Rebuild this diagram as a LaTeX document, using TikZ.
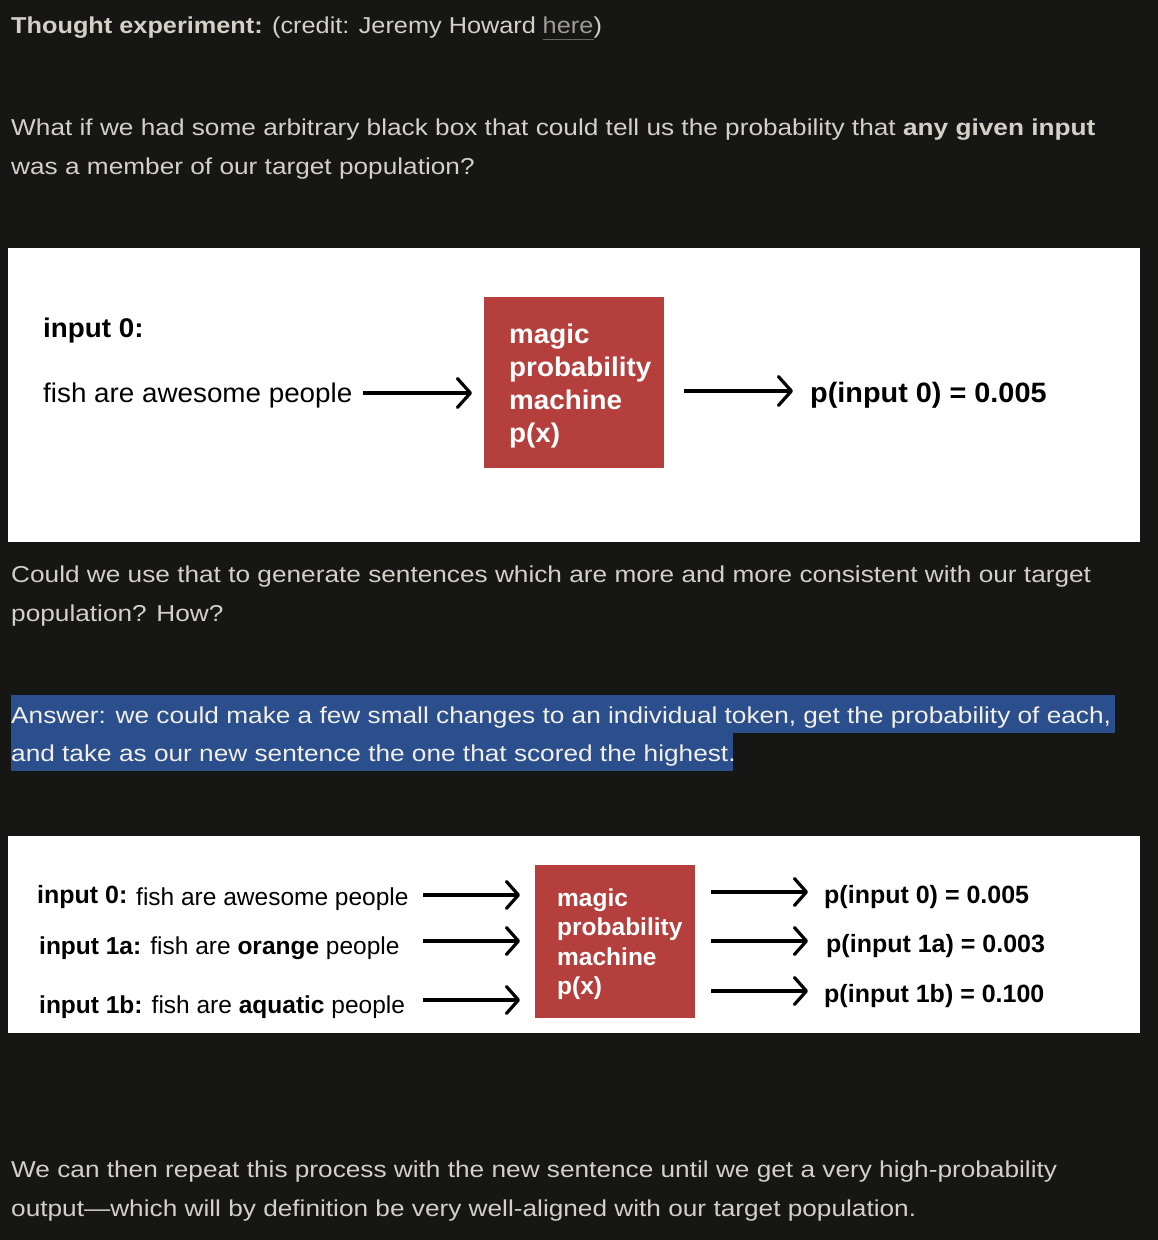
\documentclass[tikz,border=0pt]{standalone}
\usepackage{fontspec}
\setmainfont{Liberation Sans}
\newfontfamily\bodyfont{Liberation Sans}[FakeStretch=1.14]
\newfontfamily\titlefont{Liberation Sans}[FakeStretch=1.10]
\newfontfamily\diagfont{Liberation Sans}[FakeStretch=1.03]
\newfontfamily\smallfont{Liberation Sans}
\usetikzlibrary{arrows.meta}
\definecolor{bg}{HTML}{161615}
\definecolor{bodytext}{HTML}{D4CFC7}
\definecolor{linkgrey}{HTML}{9F9B95}
\definecolor{hl}{HTML}{2A4F8C}
\definecolor{hltext}{HTML}{F2EFE9}
\definecolor{boxred}{HTML}{B53F3C}
\begin{document}
\begin{tikzpicture}[x=1pt,y=-1pt,
  body/.style={anchor=base west, inner sep=0pt, text=bodytext, font=\bodyfont\fontsize{23}{28}\selectfont},
  ttl/.style={body, font=\titlefont\fontsize{23}{28}\selectfont},
  hltxt/.style={body, text=hltext},
  dtxt/.style={anchor=base west, inner sep=0pt, text=black, font=\diagfont\fontsize{27}{32}\selectfont},
  dtxtb/.style={dtxt, font=\diagfont\fontsize{27}{32}\selectfont\bfseries},
  stxt/.style={anchor=base west, inner sep=0pt, text=black, font=\smallfont\fontsize{24.5}{30}\selectfont},
  stxtb/.style={stxt, font=\smallfont\fontsize{25}{30}\selectfont\bfseries},
  panel/.style={fill=white, draw=none},
  redbox/.style={fill=boxred, draw=none, inner sep=0pt},
  boxtxt/.style={anchor=base west, inner sep=0pt, text=white},
  arr/.style={line width=3.2pt, -{Straight Barb[length=13pt,width=29pt,round]}},
  sarr/.style={line width=3.2pt, -{Straight Barb[length=12pt,width=27pt,round]}}
]
\fill[bg] (0,0) rectangle (1158,1240);
\useasboundingbox (0,0) rectangle (1158,1240);

% title
\node[ttl] (title) at (11,33)
  {\textbf{Thought experiment:} (credit: Jeremy Howard};
\node[ttl, text=linkgrey] (here) at ([xshift=6.3pt]title.base east) {here};
\node[ttl] (close) at (here.base east) {)};
\draw[linkgrey!60!bg, line width=1pt] ([yshift=-6pt]here.base west) -- ([yshift=-6pt]here.base east);

% paragraph 1
\node[body] (p1a) at (11,135) {What if we had some arbitrary black box that could tell us the probability that \textbf{any given input}};
\node[body] (p1b) at (11,174) {was a member of our target population?};

% panel 1
\fill[panel] (8,248) rectangle (1140,542);
\node[dtxtb] (in0) at (43,337) {input 0:};
\node[dtxt] (fish0) at (43,402) {fish are awesome people};
\node[redbox, minimum width=180pt, minimum height=171pt] (box1) at (574,382.5) {};
\node[boxtxt, font=\diagfont\fontsize{27}{33}\selectfont\bfseries] (box1txt) at (509,343)
  {\begin{tabular}[t]{@{}l@{}}magic\\probability\\machine\\p(x)\end{tabular}};
\node[dtxtb, font=\diagfont\fontsize{28}{32}\selectfont\bfseries] (out0) at (810,402) {p(input 0) = 0.005};
\coordinate (a1s) at (363,393);
\coordinate (a1e) at (472,393);
\coordinate (a2s) at (684,391);
\coordinate (a2e) at (793,391);
\draw[arr] (a1s) -- (a1e);
\draw[arr] (a2s) -- (a2e);

% paragraph 2
\node[body] (p2a) at (11,582) {Could we use that to generate sentences which are more and more consistent with our target};
\node[body] (p2b) at (11,621) {population? How?};

% highlighted answer
\fill[hl] (11,695) rectangle (1115,733);
\fill[hl] (11,733) rectangle (733,771);
\node[hltxt] (ans1) at (11,723) {Answer: we could make a few small changes to an individual token, get the probability of each,};
\node[hltxt] (ans2) at (11,761) {and take as our new sentence the one that scored the highest.};

% panel 2
\fill[panel] (8,836) rectangle (1140,1033);
\node[stxtb] (r0lab) at (37,903) {input 0:};
\node[stxt] (r0txt) at (136,905) {fish are awesome people};
\node[stxt] (r1) at (39,954) {\textbf{input 1a:} fish are \textbf{orange} people};
\node[stxt] (r2) at (39,1013) {\textbf{input 1b:} fish are \textbf{aquatic} people};
\node[redbox, minimum width=160pt, minimum height=153pt] (box2) at (615,941.5) {};
\node[boxtxt, font=\smallfont\fontsize{24.5}{29.5}\selectfont\bfseries] (box2txt) at (557,906)
  {\begin{tabular}[t]{@{}l@{}}magic\\probability\\machine\\p(x)\end{tabular}};
\node[stxtb] (o0) at (824,903) {p(input 0) = 0.005};
\node[stxtb] (o1) at (826,952) {p(input 1a) = 0.003};
\node[stxtb] (o2) at (824,1002) {p(input 1b) = 0.100};
\coordinate (l0s) at (423,895); \coordinate (l0e) at (520,895);
\coordinate (l1s) at (423,941); \coordinate (l1e) at (520,941);
\coordinate (l2s) at (423,1000); \coordinate (l2e) at (520,1000);
\coordinate (q0s) at (711,892); \coordinate (q0e) at (808,892);
\coordinate (q1s) at (711,941); \coordinate (q1e) at (808,941);
\coordinate (q2s) at (711,991); \coordinate (q2e) at (808,991);
\draw[sarr] (l0s) -- (l0e);
\draw[sarr] (l1s) -- (l1e);
\draw[sarr] (l2s) -- (l2e);
\draw[sarr] (q0s) -- (q0e);
\draw[sarr] (q1s) -- (q1e);
\draw[sarr] (q2s) -- (q2e);

% last paragraph
\node[body] (p3a) at (11,1177) {We can then repeat this process with the new sentence until we get a very high-probability};
\node[body] (p3b) at (11,1216) {output—which will by definition be very well-aligned with our target population.};
\end{tikzpicture}
\end{document}
